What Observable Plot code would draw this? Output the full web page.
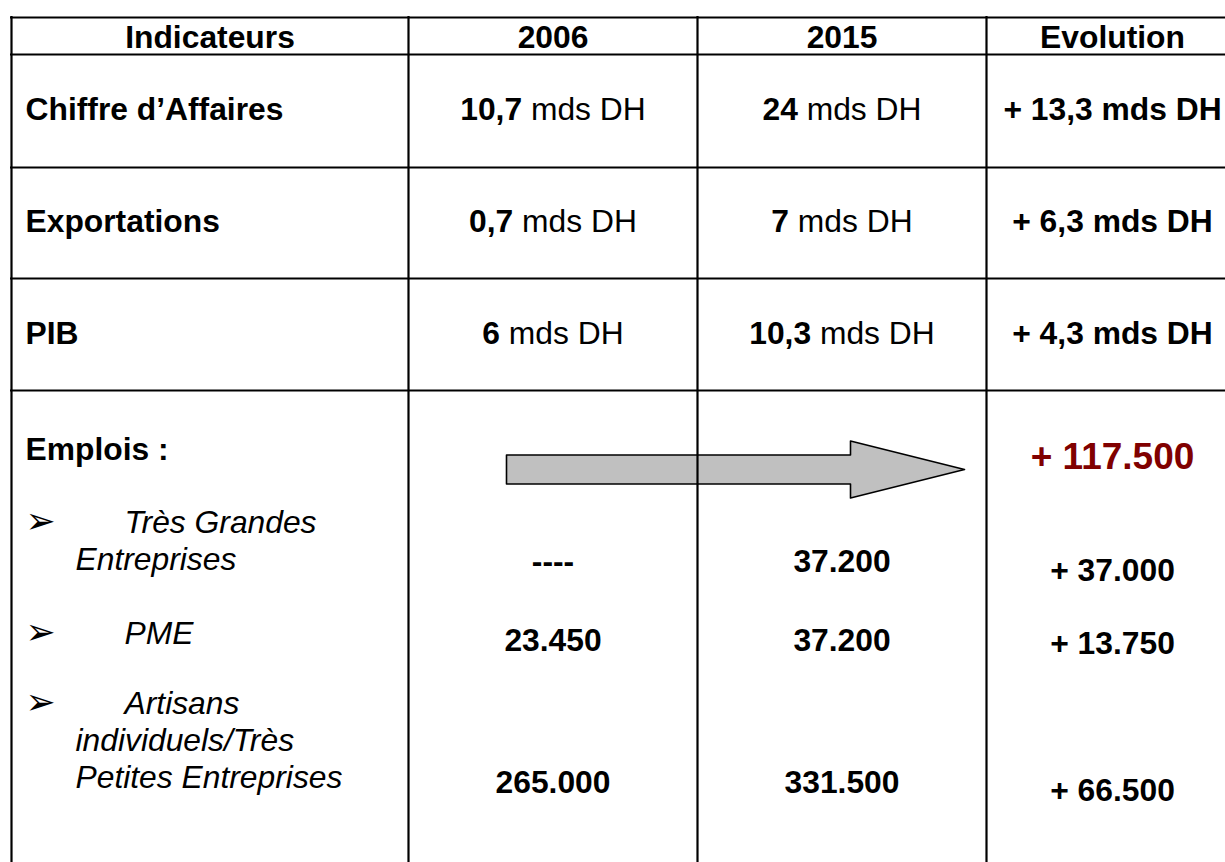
<!DOCTYPE html>
<html>
<head>
<meta charset="utf-8">
<script src="https://cdn.jsdelivr.net/npm/d3@7"></script>
<script src="https://cdn.jsdelivr.net/npm/@observablehq/plot@0.6"></script>
<style>
  html, body { margin: 0; padding: 0; background: #fff; }
  #chart { width: 1225px; height: 862px; overflow: hidden; }
</style>
</head>
<body>
<div id="chart"></div>
<script>
// ---------- DATA ----------
const headers = ["Indicateurs", "2006", "2015", "Evolution"];
const indicators = ["Chiffre d’Affaires", "Exportations", "PIB"];
const values2006 = ["10,7", "0,7", "6"];
const values2015 = ["24", "7", "10,3"];
const unit = "mds DH";
const evolution = ["+ 13,3 mds DH", "+ 6,3 mds DH", "+ 4,3 mds DH"];
const emploisLabel = "Emplois :";
const emploisTotal = "+ 117.500";
const emploisCategories = [
  ["Très Grandes", "Entreprises"],
  ["PME"],
  ["Artisans", "individuels/Très", "Petites Entreprises"]
];
const emplois2006 = ["----", "23.450", "265.000"];
const emplois2015 = ["37.200", "37.200", "331.500"];
const emploisEvolution = ["+ 37.000", "+ 13.750", "+ 66.500"];
const bullet = "➢";

// ---------- LAYOUT ----------
const W = 1225, H = 862;
const FS = 31.8, FS_TOTAL = 37;
const FONT = '"Liberation Sans", Arial, Helvetica, sans-serif';
const colEdges = [11, 408, 697, 986, 1238];
const rowEdges = [17, 54, 167, 278, 390];
const colCenter = i => (colEdges[i] + colEdges[i + 1]) / 2;
const headerY = 37;
const rowY = [109.5, 221.5, 333];
const emploisLabelY = 449, totalY = 457;
const catY = [522, 633, 703], catLineH = 37;
const catX0 = 124, catX1 = 75, labelX = 25;
const empValY = [561, 640, 782];
const empEvolY = [570, 643, 790];
const arrowGeom = {x0: 506, head: 850, tip: 964, y: 469, body: 14.5, headHalf: 28.5};

// ---------- helpers ----------
const ctx = document.createElement("canvas").getContext("2d");
const measure = (s, weight, size = FS) => {
  ctx.font = `${weight} ${size}px ${FONT}`;
  return ctx.measureText(s).width;
};

// mixed bold / regular cells
const mixed = [];
[values2006, values2015].forEach((vals, k) => {
  vals.forEach((v, i) => {
    const wb = measure(v, "bold"), ws = measure(" ", "normal"), wr = measure(unit, "normal");
    const x0 = colCenter(k + 1) - (wb + ws + wr) / 2;
    mixed.push({bold: v, reg: unit, xb: x0, xr: x0 + wb + ws, y: rowY[i]});
  });
});

const headerCells = headers.map((h, i) => ({text: h, x: colCenter(i), y: headerY}));
const indicatorCells = indicators.map((t, i) => ({text: t, x: labelX, y: rowY[i]}));
const evolCells = evolution.map((t, i) => ({text: t, x: colCenter(3), y: rowY[i]}));

const catLines = [];
emploisCategories.forEach((lines, i) => {
  lines.forEach((l, j) => catLines.push({text: l, x: j === 0 ? catX0 : catX1, y: catY[i] + j * catLineH}));
});
const bullets = emploisCategories.map((_, i) => ({text: bullet, x: labelX, y: catY[i] - 1}));
const empCells = [
  ...emplois2006.map((t, i) => ({text: t, x: colCenter(1), y: empValY[i]})),
  ...emplois2015.map((t, i) => ({text: t, x: colCenter(2), y: empValY[i]})),
  ...emploisEvolution.map((t, i) => ({text: t, x: colCenter(3), y: empEvolY[i]}))
];

const a = arrowGeom;
const arrowPts = [
  {x: a.x0, y: a.y - a.body}, {x: a.head, y: a.y - a.body}, {x: a.head, y: a.y - a.headHalf},
  {x: a.tip, y: a.y}, {x: a.head, y: a.y + a.headHalf}, {x: a.head, y: a.y + a.body},
  {x: a.x0, y: a.y + a.body}
];

const textBase = {x: "x", y: "y", text: "text", fontFamily: FONT, fontSize: FS, fill: "black"};

const chart = Plot.plot({
  width: W, height: H,
  margin: 0,
  style: {fontFamily: FONT, background: "white"},
  x: {domain: [0, W], range: [0, W], axis: null},
  y: {domain: [0, H], range: [0, H], axis: null},
  marks: [
    Plot.line(arrowPts, {x: "x", y: "y", curve: "linear-closed", fill: "#c0c0c0", stroke: "black", strokeWidth: 1.6}),
    Plot.ruleY(rowEdges, {y: d => d, x1: colEdges[0] - 1, x2: colEdges[4], stroke: "black", strokeWidth: 2.2}),
    Plot.ruleX(colEdges, {x: d => d, y1: rowEdges[0] - 1, y2: H + 20, stroke: "black", strokeWidth: 2.2}),
    Plot.text(headerCells, {...textBase, fontWeight: "bold", textAnchor: "middle"}),
    Plot.text(indicatorCells, {...textBase, fontWeight: "bold", textAnchor: "start"}),
    Plot.text(mixed, {x: "xb", y: "y", text: "bold", fontFamily: FONT, fontSize: FS, fontWeight: "bold", textAnchor: "start"}),
    Plot.text(mixed, {x: "xr", y: "y", text: "reg", fontFamily: FONT, fontSize: FS, fontWeight: "normal", textAnchor: "start"}),
    Plot.text(evolCells, {...textBase, fontWeight: "bold", textAnchor: "middle"}),
    Plot.text([{text: emploisLabel, x: labelX, y: emploisLabelY}], {...textBase, fontWeight: "bold", textAnchor: "start"}),
    Plot.text([{text: emploisTotal, x: colCenter(3), y: totalY}], {...textBase, fontSize: FS_TOTAL, fontWeight: "bold", fill: "#800000", textAnchor: "middle"}),
    Plot.text(bullets, {...textBase, fontFamily: '"DejaVu Sans", sans-serif', fontSize: 36, textAnchor: "start"}),
    Plot.text(catLines, {...textBase, fontStyle: "italic", textAnchor: "start"}),
    Plot.text(empCells, {...textBase, fontWeight: "bold", textAnchor: "middle"})
  ]
});
document.getElementById("chart").appendChild(chart);
</script>
</body>
</html>
